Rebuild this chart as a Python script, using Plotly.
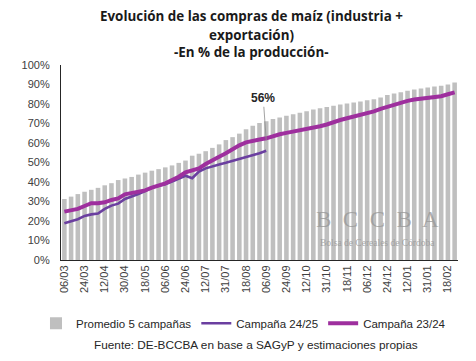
import plotly.graph_objects as go

dates = ["06/03", "12/03", "18/03", "24/03", "30/03", "06/04", "12/04", "18/04", "24/04", "30/04",
         "06/05", "12/05", "18/05", "24/05", "31/05", "06/06", "12/06", "18/06", "24/06", "30/06",
         "06/07", "12/07", "18/07", "24/07", "31/07", "06/08", "12/08", "18/08", "24/08", "31/08",
         "06/09", "12/09", "18/09", "24/09", "30/09", "06/10", "12/10", "18/10", "24/10", "31/10",
         "06/11", "12/11", "18/11", "24/11", "30/11", "06/12", "12/12", "18/12", "24/12", "30/12",
         "06/01", "12/01", "18/01", "24/01", "31/01", "06/02", "12/02", "18/02", "24/02"]

promedio = [31.3, 32.5, 33.8, 35.0, 36.0, 37.0, 38.3, 39.4, 41.0, 41.8,
            42.6, 43.8, 44.8, 45.8, 46.6, 47.5, 48.5, 49.8, 51.0, 53.5,
            54.5, 55.8, 57.5, 59.3, 61.5, 63.0, 64.8, 67.0, 68.8, 70.2,
            71.2, 72.3, 73.1, 74.0, 74.8, 75.5, 76.3, 77.2, 77.8, 78.4,
            79.1, 79.8, 80.3, 80.8, 81.3, 81.9, 82.4, 83.3, 84.6, 85.4,
            86.0, 86.8, 87.5, 88.0, 88.5, 89.0, 89.4, 90.0, 91.0]

campana_2425 = [18.8, 19.7, 20.9, 22.6, 23.4, 23.8, 26.2, 27.9, 28.9, 31.3,
                32.5, 33.8, 35.4, 37.1, 38.1, 38.8, 40.2, 41.5, 43.2, 41.9,
                45.3, 47.0, 48.2, 49.0, 49.9, 50.8, 52.0, 52.8, 53.8, 54.8,
                56.0]

campana_2324 = [24.8, 25.3, 26.2, 27.7, 29.1, 29.1, 29.6, 30.8, 31.6, 33.7,
                34.2, 34.7, 35.7, 37.1, 38.1, 39.3, 41.0, 42.7, 45.0, 45.8,
                47.0, 49.2, 51.3, 53.0, 54.7, 56.9, 58.8, 60.3, 61.2, 61.8,
                62.4, 63.6, 64.5, 65.2, 65.8, 66.5, 67.2, 67.8, 68.6, 69.5,
                70.8, 71.8, 72.7, 73.5, 74.2, 75.2, 76.2, 77.5, 78.6, 79.6,
                80.6, 81.6, 82.3, 82.8, 83.1, 83.4, 84.0, 85.0, 86.0]

tick_labels = dates[::3]
y_ticks = list(range(0, 101, 10))

title_lines = ["Evolución de las compras de maíz (industria +",
               "exportación)",
               "-En % de la producción-"]

FONT = "Liberation Sans, Arial, sans-serif"
TFONT = "Open Sans, Liberation Sans, sans-serif"

fig = go.Figure()
fig.add_trace(go.Bar(x=dates, y=promedio, name="Promedio 5 campañas",
                     marker=dict(color="#BFBFBF", line=dict(width=0))))
fig.add_trace(go.Scatter(x=dates[:len(campana_2425)], y=campana_2425, name="Campaña 24/25",
                         mode="lines", line=dict(color="#6B3FA0", width=2.6)))
fig.add_trace(go.Scatter(x=dates, y=campana_2324, name="Campaña 23/24",
                         mode="lines", line=dict(color="#9E2F9E", width=4)))

fig.add_annotation(x=dates[30], y=campana_2324[30] - 1, text="<b>56%</b>", showarrow=True,
                   arrowhead=0, arrowwidth=0.8, arrowcolor="#8C8C8C", ax=-3, ay=-42,
                   font=dict(size=12, color="#262626", family=FONT))

# title lines
for ty, line in zip([1.251, 1.154, 1.067], title_lines):
    fig.add_annotation(xref="paper", yref="paper", x=0.479, y=ty, xanchor="center", yanchor="middle",
                       text=f"<b>{line}</b>", showarrow=False,
                       font=dict(size=13.4, color="#1a1a1a", family=TFONT))

# watermark
fig.add_annotation(xref="paper", yref="paper", x=0.796, y=0.21, xanchor="center", yanchor="middle",
                   text="B  C  C  B  A", showarrow=False,
                   font=dict(size=23, color="rgba(150,150,150,0.75)",
                             family="Liberation Serif, DejaVu Serif, serif"))
fig.add_annotation(xref="paper", yref="paper", x=0.796, y=0.087, xanchor="center", yanchor="middle",
                   text="Bolsa de Cereales de Córdoba",
                   showarrow=False, font=dict(size=9.5, color="rgba(150,150,150,0.8)",
                                              family="Liberation Serif, DejaVu Serif, serif"))

fig.add_annotation(xref="paper", yref="paper", x=0.491, y=-0.438, xanchor="center", yanchor="middle",
                   text="Fuente: DE-BCCBA en base a SAGyP y estimaciones propias",
                   showarrow=False, font=dict(size=11.8, color="#262626", family=FONT))

fig.update_layout(
    width=476, height=361,
    margin=dict(l=61, r=18, t=65, b=101, autoexpand=False),
    paper_bgcolor="white", plot_bgcolor="white",
    bargap=0.32,
    showlegend=True,
    legend=dict(orientation="h", x=-0.063, xanchor="left", y=-0.25, yanchor="top",
                font=dict(size=11.5, color="#262626", family=FONT), itemwidth=30,
                tracegroupgap=0, bgcolor="rgba(0,0,0,0)"),
    font=dict(family=FONT, color="#404040"),
)
fig.update_xaxes(type="category", categoryorder="array", categoryarray=dates,
                 tickmode="array", tickvals=tick_labels, ticktext=tick_labels,
                 tickangle=-90, tickfont=dict(size=11, color="#404040"),
                 showline=True, linecolor="#262626", linewidth=1.2, showgrid=False,
                 ticks="", range=[-0.5, len(dates) - 0.5])
fig.update_yaxes(range=[0, 100], tickmode="array", tickvals=y_ticks,
                 ticktext=[f"{v}%" for v in y_ticks], tickfont=dict(size=11, color="#404040"),
                 showline=True, linecolor="#262626", linewidth=1.2, showgrid=False,
                 zeroline=False, ticks="", ticklabelstandoff=8)

fig.write_html("out.html", post_script="document.body.style.margin='0';",
               config={"displayModeBar": False})
